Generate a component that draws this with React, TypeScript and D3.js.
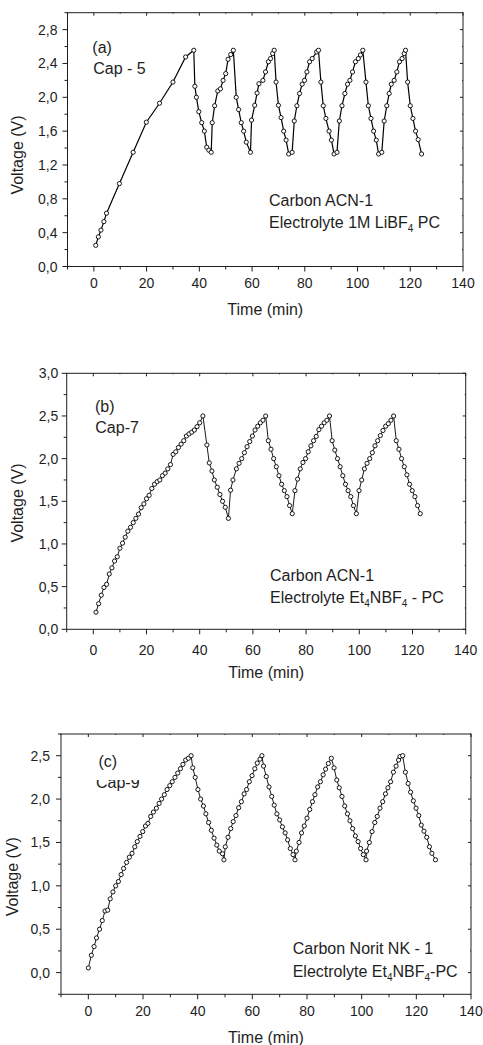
import React from "react";
import * as d3 from "d3";

// ---------- DATA ----------
// Panel (a): Cap - 5, Carbon ACN-1, 1M LiBF4 PC
const timeA = [
  0.7, 1.7, 2.7, 3.8, 4.8, 9.7, 14.9, 19.9, 24.9, 30.0, 34.8, 37.9,
  38.3, 38.9, 39.8, 40.9, 41.9, 42.8, 43.6, 44.5,
  44.9, 45.8, 47.0, 48.0, 49.0, 50.0, 50.9, 51.9, 52.9,
  54.0, 54.9, 55.9, 56.8, 57.8, 59.4,
  59.8, 61.0, 61.9, 62.6, 64.1, 65.1, 66.2, 67.0, 67.8, 68.4,
  69.1, 70.0, 71.0, 72.0, 72.9, 73.9, 75.2,
  76.0, 77.0, 78.0, 79.0, 79.9, 80.8, 81.8, 82.8, 84.5, 85.2,
  86.1, 87.0, 88.0, 89.2, 90.1, 91.1, 92.2,
  93.1, 94.1, 95.2, 96.2, 97.1, 98.1, 99.2, 100.3, 101.1, 102.0,
  103.2, 104.1, 105.1, 106.1, 107.1, 108.0, 109.2,
  110.1, 111.1, 112.0, 112.8, 113.9, 114.9, 115.9, 116.9, 117.7, 118.2,
  119.0, 120.0, 121.0, 122.0, 123.0, 124.3,
];
const voltA = [
  0.25, 0.35, 0.43, 0.53, 0.63, 0.98, 1.35, 1.706, 1.93, 2.18, 2.477, 2.556,
  2.13, 2.0, 1.83, 1.70, 1.60, 1.41, 1.375, 1.35,
  1.70, 1.90, 2.075, 2.10, 2.20, 2.28, 2.45, 2.505, 2.556,
  2.0, 1.855, 1.70, 1.60, 1.47, 1.35,
  1.73, 1.905, 2.05, 2.16, 2.20, 2.30, 2.42, 2.458, 2.517, 2.556,
  2.18, 1.905, 1.76, 1.60, 1.494, 1.33, 1.35,
  1.72, 1.90, 2.045, 2.155, 2.20, 2.30, 2.42, 2.458, 2.536, 2.556,
  2.18, 1.90, 1.75, 1.60, 1.494, 1.33, 1.35,
  1.72, 1.90, 2.045, 2.155, 2.20, 2.30, 2.42, 2.458, 2.50, 2.556,
  2.18, 1.90, 1.75, 1.60, 1.494, 1.33, 1.35,
  1.72, 1.90, 2.045, 2.155, 2.20, 2.30, 2.42, 2.458, 2.517, 2.556,
  2.18, 1.90, 1.75, 1.60, 1.50, 1.33,
];

// Panel (b): Cap-7, Carbon ACN-1, Et4NBF4 - PC
const timeB = [
  1, 2, 3, 4, 5, 6, 7, 8, 9, 10, 11, 12, 13, 14, 15, 16, 17, 18, 19, 20,
  21, 22, 23, 24, 25, 26, 27, 28, 29, 30, 31, 32, 33, 34, 35, 36, 37, 38, 39, 40, 41.2,
  42.7, 43.6, 44.6, 45.5, 46.6, 47.6, 48.6, 49.6, 50.8,
  51.6, 52.5, 53.8, 54.8, 55.8, 56.8, 57.8, 58.8, 59.8, 60.8, 61.8, 62.8, 63.8, 64.8,
  65.8, 66.8, 67.8, 68.8, 69.8, 70.8, 71.8, 72.8, 73.8, 74.8,
  75.8, 76.8, 77.8, 78.8, 79.8, 80.8, 81.8, 82.8, 83.8, 84.8, 85.8, 86.8, 87.8, 88.8,
  89.8, 90.8, 91.8, 92.8, 93.8, 94.8, 95.8, 96.8, 97.8, 98.9,
  99.9, 100.9, 101.9, 102.9, 103.9, 104.9, 105.9, 106.9, 107.9, 108.9, 109.9, 110.9, 111.9, 112.9,
  113.9, 114.9, 115.9, 116.9, 117.9, 118.9, 119.9, 120.9, 121.9, 122.9,
];
const voltB = [
  0.20, 0.30, 0.40, 0.49, 0.527, 0.648, 0.72, 0.80, 0.85, 0.95, 1.01, 1.08, 1.15, 1.195, 1.25, 1.30,
  1.35, 1.425, 1.47, 1.53, 1.57, 1.65, 1.70, 1.73, 1.75, 1.80, 1.83, 1.88, 1.93, 2.05, 2.08,
  2.13, 2.17, 2.21, 2.265, 2.29, 2.31, 2.335, 2.375, 2.42, 2.50,
  2.16, 1.95, 1.855, 1.75, 1.665, 1.58, 1.50, 1.43, 1.30,
  1.63, 1.75, 1.88, 1.945, 2.0, 2.07, 2.14, 2.20, 2.265, 2.335, 2.38, 2.42, 2.45, 2.50,
  2.21, 2.11, 2.0, 1.905, 1.80, 1.70, 1.625, 1.555, 1.45, 1.355,
  1.625, 1.76, 1.88, 1.955, 2.0, 2.08, 2.15, 2.21, 2.26, 2.34, 2.38, 2.42, 2.45, 2.50,
  2.21, 2.10, 2.0, 1.905, 1.80, 1.70, 1.625, 1.555, 1.45, 1.355,
  1.625, 1.75, 1.88, 1.945, 2.0, 2.07, 2.15, 2.21, 2.27, 2.33, 2.38, 2.41, 2.45, 2.50,
  2.21, 2.11, 2.0, 1.905, 1.81, 1.70, 1.625, 1.555, 1.45, 1.355,
];

// Panel (c): Cap-9, Carbon Norit NK - 1, Et4NBF4-PC
const timeC = [
  0, 1.1, 2.1, 3.0, 4.1, 5.1, 6.1, 7.1, 8.0, 9.0, 10.0, 11.0, 12.0, 12.9, 14.0, 15.0, 16.0, 17.0,
  17.9, 18.9, 19.9, 20.9, 21.8, 22.8, 23.8, 24.9, 25.9, 26.8, 27.8, 28.8, 29.8, 30.7, 31.7, 32.7,
  33.7, 34.6, 35.6, 36.6, 37.6,
  38.2, 39.1, 40.1, 41.1, 42.1, 43.0, 44.0, 45.0, 46.0, 47.0, 47.9, 49.1, 49.6,
  50.1, 51.1, 52.1, 53.0, 54.0, 55.0, 56.0, 57.0, 57.9, 58.9, 59.9, 60.9, 61.8, 62.8, 63.5,
  64.1, 65.1, 66.1, 67.1, 68.0, 69.0, 70.0, 71.0, 72.0, 72.9, 73.9, 74.9, 75.6,
  76.1, 77.1, 78.0, 79.0, 80.0, 81.0, 82.0, 82.9, 83.9, 84.9, 85.9, 86.8, 87.8, 88.9,
  89.9, 90.9, 91.8, 92.8, 93.8, 94.8, 95.7, 96.7, 97.7, 98.7, 99.6, 100.6, 101.6,
  101.8, 102.8, 103.8, 104.8, 105.7, 106.7, 107.7, 108.7, 109.6, 110.6, 111.6, 112.6, 113.5, 114.0, 115.0,
  116.0, 117.0, 117.9, 118.9, 119.9, 120.9, 121.8, 122.8, 123.8, 124.8, 125.7, 127.0,
];
const voltC = [
  0.054, 0.20, 0.30, 0.40, 0.50, 0.60, 0.71, 0.72, 0.85, 0.93, 1.0, 1.05, 1.13, 1.20, 1.27, 1.33,
  1.375, 1.45, 1.51, 1.57, 1.625, 1.69, 1.72, 1.80, 1.85, 1.895, 1.95, 2.0, 2.05, 2.11, 2.155,
  2.20, 2.25, 2.30, 2.35, 2.40, 2.45, 2.47, 2.50,
  2.36, 2.25, 2.11, 2.0, 1.92, 1.83, 1.73, 1.64, 1.55, 1.47, 1.40, 1.37, 1.30,
  1.45, 1.56, 1.66, 1.74, 1.81, 1.90, 1.97, 2.06, 2.11, 2.20, 2.27, 2.35, 2.415, 2.46, 2.50,
  2.38, 2.26, 2.14, 2.03, 1.93, 1.83, 1.76, 1.68, 1.61, 1.53, 1.43, 1.36, 1.30,
  1.40, 1.50, 1.61, 1.69, 1.78, 1.88, 1.97, 2.05, 2.14, 2.20, 2.28, 2.345, 2.41, 2.47,
  2.36, 2.22, 2.13, 2.03, 1.92, 1.83, 1.75, 1.66, 1.575, 1.51, 1.43, 1.36, 1.30,
  1.40, 1.50, 1.625, 1.73, 1.80, 1.895, 1.97, 2.06, 2.13, 2.20, 2.31, 2.38, 2.45, 2.49, 2.50,
  2.31, 2.18, 2.08, 1.98, 1.895, 1.81, 1.70, 1.63, 1.56, 1.45, 1.375, 1.30,
];

// Tick values
const xTickLabels = [0, 20, 40, 60, 80, 100, 120, 140];
const yTicksA = [0, 0.4, 0.8, 1.2, 1.6, 2.0, 2.4, 2.8];
const yTicksB = [0, 0.5, 1.0, 1.5, 2.0, 2.5, 3.0];
const yTicksC = [0, 0.5, 1.0, 1.5, 2.0, 2.5];

// ---------- RENDERING ----------
const FONT = "'Liberation Sans', Arial, Helvetica, sans-serif";
const INK = "#1e1e1e";
const fmtY = (v: number) => d3.format(".1f")(v).replace(".", ",");

type Frame = { left: number; right: number; top: number; bottom: number };

type PanelProps = {
  frame: Frame;
  yDomain: [number, number];
  yMajor: number[];
  yMinorStep: number;
  times: number[];
  volts: number[];
  lineWidth: number;
  xLabelOffset: number;
  yLabelGap: number;
  yTitle: { x: number; y: number };
  xTitleY: number;
  children?: React.ReactNode;
};

function Panel(p: PanelProps) {
  const { frame } = p;
  const x = d3.scaleLinear().domain([-10, 140]).range([frame.left, frame.right]);
  const y = d3.scaleLinear().domain(p.yDomain).range([frame.bottom, frame.top]);
  const xMinor = d3.range(-10, 140.01, 10);
  const yMinor = d3.range(p.yDomain[0], p.yDomain[1] + 1e-6, p.yMinorStep);
  const isMajorY = (v: number) => p.yMajor.some((m) => Math.abs(m - v) < 1e-6);
  const isMajorX = (v: number) => xTickLabels.some((m) => Math.abs(m - v) < 1e-6);
  const pts: [number, number][] = p.times.map((t, i) => [t, p.volts[i]]);
  const line = d3.line<[number, number]>().x((d) => x(d[0])).y((d) => y(d[1]));

  return (
    <g>
      <rect
        x={frame.left}
        y={frame.top}
        width={frame.right - frame.left}
        height={frame.bottom - frame.top}
        fill="none"
        stroke={INK}
        strokeWidth={1}
      />
      {xMinor.map((v) => {
        const L = isMajorX(v) ? 5 : 3;
        const xi = x(v);
        return (
          <g key={"xt" + v} stroke={INK} strokeWidth={1}>
            <line x1={xi} x2={xi} y1={frame.bottom} y2={frame.bottom + L} />
            <line x1={xi} x2={xi} y1={frame.top} y2={frame.top + (L - 2)} />
          </g>
        );
      })}
      {yMinor.map((v) => {
        const L = isMajorY(v) ? 5 : 3;
        const yi = y(v);
        return (
          <g key={"yt" + v} stroke={INK} strokeWidth={1}>
            <line x1={frame.left - L} x2={frame.left} y1={yi} y2={yi} />
            <line x1={frame.right - (L - 2)} x2={frame.right} y1={yi} y2={yi} />
          </g>
        );
      })}
      {xTickLabels.map((v) => (
        <text
          key={"xl" + v}
          x={x(v)}
          y={frame.bottom + p.xLabelOffset}
          textAnchor="middle"
          fontSize={14}
          fontFamily={FONT}
          fill={INK}
        >
          {v}
        </text>
      ))}
      {p.yMajor.map((v) => (
        <text
          key={"yl" + v}
          x={frame.left - p.yLabelGap}
          y={y(v) + 5}
          textAnchor="end"
          fontSize={14}
          fontFamily={FONT}
          fill={INK}
        >
          {fmtY(v)}
        </text>
      ))}
      <text
        x={(frame.left + frame.right) / 2}
        y={p.xTitleY}
        textAnchor="middle"
        fontSize={16}
        fontFamily={FONT}
        fill={INK}
      >
        Time (min)
      </text>
      <text
        transform={`translate(${p.yTitle.x},${p.yTitle.y}) rotate(-90)`}
        textAnchor="middle"
        fontSize={16}
        fontFamily={FONT}
        fill={INK}
      >
        Voltage (V)
      </text>
      <path d={line(pts) || ""} fill="none" stroke="#000" strokeWidth={p.lineWidth} />
      {pts.map((d, i) => (
        <circle
          key={"c" + i}
          cx={x(d[0])}
          cy={y(d[1])}
          r={2.1}
          fill="#fff"
          stroke="#000"
          strokeWidth={0.9}
        />
      ))}
      {p.children}
    </g>
  );
}

const Txt = ({ x, y, children }: { x: number; y: number; children: React.ReactNode }) => (
  <text x={x} y={y} fontSize={16} fontFamily={FONT} fill={INK}>
    {children}
  </text>
);

// text segments: [text, isSubscript]
const Rich = ({ x, y, parts }: { x: number; y: number; parts: [string, boolean][] }) => (
  <text x={x} y={y} fontSize={16} fontFamily={FONT} fill={INK}>
    {parts.map(([s, sub], i) => {
      const prevSub = i > 0 && parts[i - 1][1];
      const dy = sub ? 4 : prevSub ? -4 : 0;
      return (
        <tspan key={i} fontSize={sub ? 10 : 16} dy={dy}>
          {s}
        </tspan>
      );
    })}
  </text>
);

export default function App() {
  return (
    <svg
      width={483}
      height={1045}
      viewBox="0 0 483 1045"
      style={{ position: "absolute", left: 0, top: 0, background: "#fff" }}
    >
      <rect x={0} y={0} width={483} height={1045} fill="#fff" />
      <defs>
        <clipPath id="capClip">
          <rect x={80} y={780} width={100} height={30} />
        </clipPath>
      </defs>

      <Panel
        frame={{ left: 67.5, right: 463, top: 12.7, bottom: 266.5 }}
        yDomain={[0, 3.0]}
        yMajor={yTicksA}
        yMinorStep={0.2}
        times={timeA}
        volts={voltA}
        lineWidth={1.2}
        xLabelOffset={21.5}
        yLabelGap={10}
        yTitle={{ x: 23, y: 155 }}
        xTitleY={315}
      >
        <Txt x={92.3} y={53}>(a)</Txt>
        <Txt x={93.3} y={73.8}>Cap - 5</Txt>
        <Txt x={269} y={205.5}>Carbon ACN-1</Txt>
        <Rich
          x={269}
          y={228.3}
          parts={[["Electrolyte 1M LiBF", false], ["4", true], [" PC", false]]}
        />
      </Panel>

      <Panel
        frame={{ left: 66.7, right: 465.7, top: 373.3, bottom: 629.3 }}
        yDomain={[0, 3.0]}
        yMajor={yTicksB}
        yMinorStep={0.25}
        times={timeB}
        volts={voltB}
        lineWidth={0.9}
        xLabelOffset={25.5}
        yLabelGap={8.4}
        yTitle={{ x: 22.5, y: 503 }}
        xTitleY={677.5}
      >
        <Txt x={95} y={411.5}>(b)</Txt>
        <Txt x={95.3} y={432.5}>Cap-7</Txt>
        <Txt x={270} y={580.7}>Carbon ACN-1</Txt>
        <Rich
          x={270}
          y={602.7}
          parts={[["Electrolyte Et", false], ["4", true], ["NBF", false], ["4", true], [" - PC", false]]}
        />
      </Panel>

      <Panel
        frame={{ left: 61, right: 471, top: 734, bottom: 994.3 }}
        yDomain={[-0.25, 2.75]}
        yMajor={yTicksC}
        yMinorStep={0.25}
        times={timeC}
        volts={voltC}
        lineWidth={0.9}
        xLabelOffset={21.7}
        yLabelGap={11}
        yTitle={{ x: 17.5, y: 876.7 }}
        xTitleY={1043}
      >
        <Txt x={98.5} y={766.5}>(c)</Txt>
        <g clipPath="url(#capClip)">
          <Txt x={96} y={787.7}>Cap-9</Txt>
        </g>
        <Txt x={292.7} y={954}>Carbon Norit NK - 1</Txt>
        <Rich
          x={292.7}
          y={977}
          parts={[["Electrolyte Et", false], ["4", true], ["NBF", false], ["4", true], ["-PC", false]]}
        />
      </Panel>
    </svg>
  );
}
